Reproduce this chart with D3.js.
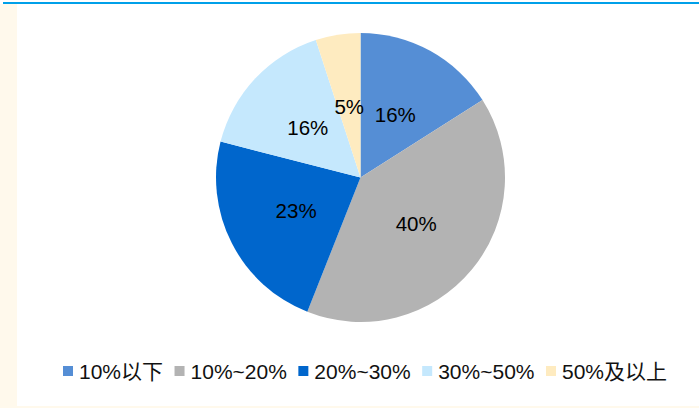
<!DOCTYPE html>
<html>
<head>
<meta charset="utf-8">
<script src="https://cdn.jsdelivr.net/npm/d3@7/dist/d3.min.js"></script>
<style>
  html, body { margin: 0; padding: 0; background: #fff; }
  svg { display: block; }
</style>
</head>
<body>
<svg id="chart" width="699" height="408"></svg>
<script>
// Share of holdings by range
const categories = ["10%以下", "10%~20%", "20%~30%", "30%~50%", "50%及以上"];
const values = [16, 40, 23, 16, 5];
const labels = ["16%", "40%", "23%", "16%", "5%"];
const colors = ["#558ED5", "#B3B3B3", "#0066CC", "#C5E8FD", "#FEEBC0"];

const W = 699, H = 408;
const svg = d3.select("#chart");

// Frame: top rule, cream side and bottom bands
svg.append("rect").attr("x", 0).attr("y", 4).attr("width", 17).attr("height", H - 4).attr("fill", "#FFF9EC");
svg.append("rect").attr("x", 0).attr("y", 406).attr("width", W).attr("height", 2).attr("fill", "#FFF9EC");
svg.append("rect").attr("x", 3).attr("y", 2).attr("width", W - 3).attr("height", 2).attr("fill", "#00A0E9");

const cx = 360.5, cy = 177.5, r = 144.5;

const pie = d3.pie().value(d => d).sort(null);
const arc = d3.arc().innerRadius(0).outerRadius(r);
const arcs = pie(values);

const g = svg.append("g").attr("transform", `translate(${cx},${cy})`);

g.selectAll("path.slice")
  .data(arcs)
  .join("path")
  .attr("class", "slice")
  .attr("d", arc)
  .attr("fill", (d, i) => colors[i]);

g.selectAll("text.lbl")
  .data(arcs)
  .join("text")
  .attr("class", "lbl")
  .attr("transform", d => `translate(${arc.centroid(d)})`)
  .attr("text-anchor", "middle")
  .attr("dy", "0.36em")
  .attr("font-family", "Liberation Sans, Arial, sans-serif")
  .attr("font-size", 20.5)
  .attr("fill", "#000")
  .text((d, i) => labels[i]);

// Legend laid out left to right, spaced by measured text width
const legend = svg.append("g").attr("transform", "translate(0,371)");
let x = 63;
categories.forEach((c, i) => {
  legend.append("rect")
    .attr("x", x).attr("y", -5).attr("width", 10).attr("height", 10)
    .attr("fill", colors[i]);
  const t = legend.append("text")
    .attr("x", x + 16)
    .attr("dy", "0.36em")
    .attr("font-family", "Liberation Sans, Arial, 'Noto Sans CJK SC', sans-serif")
    .attr("font-size", 21)
    .attr("fill", "#111")
    .text(c);
  x += 16 + t.node().getComputedTextLength() + 11.5;
});
</script>
</body>
</html>
